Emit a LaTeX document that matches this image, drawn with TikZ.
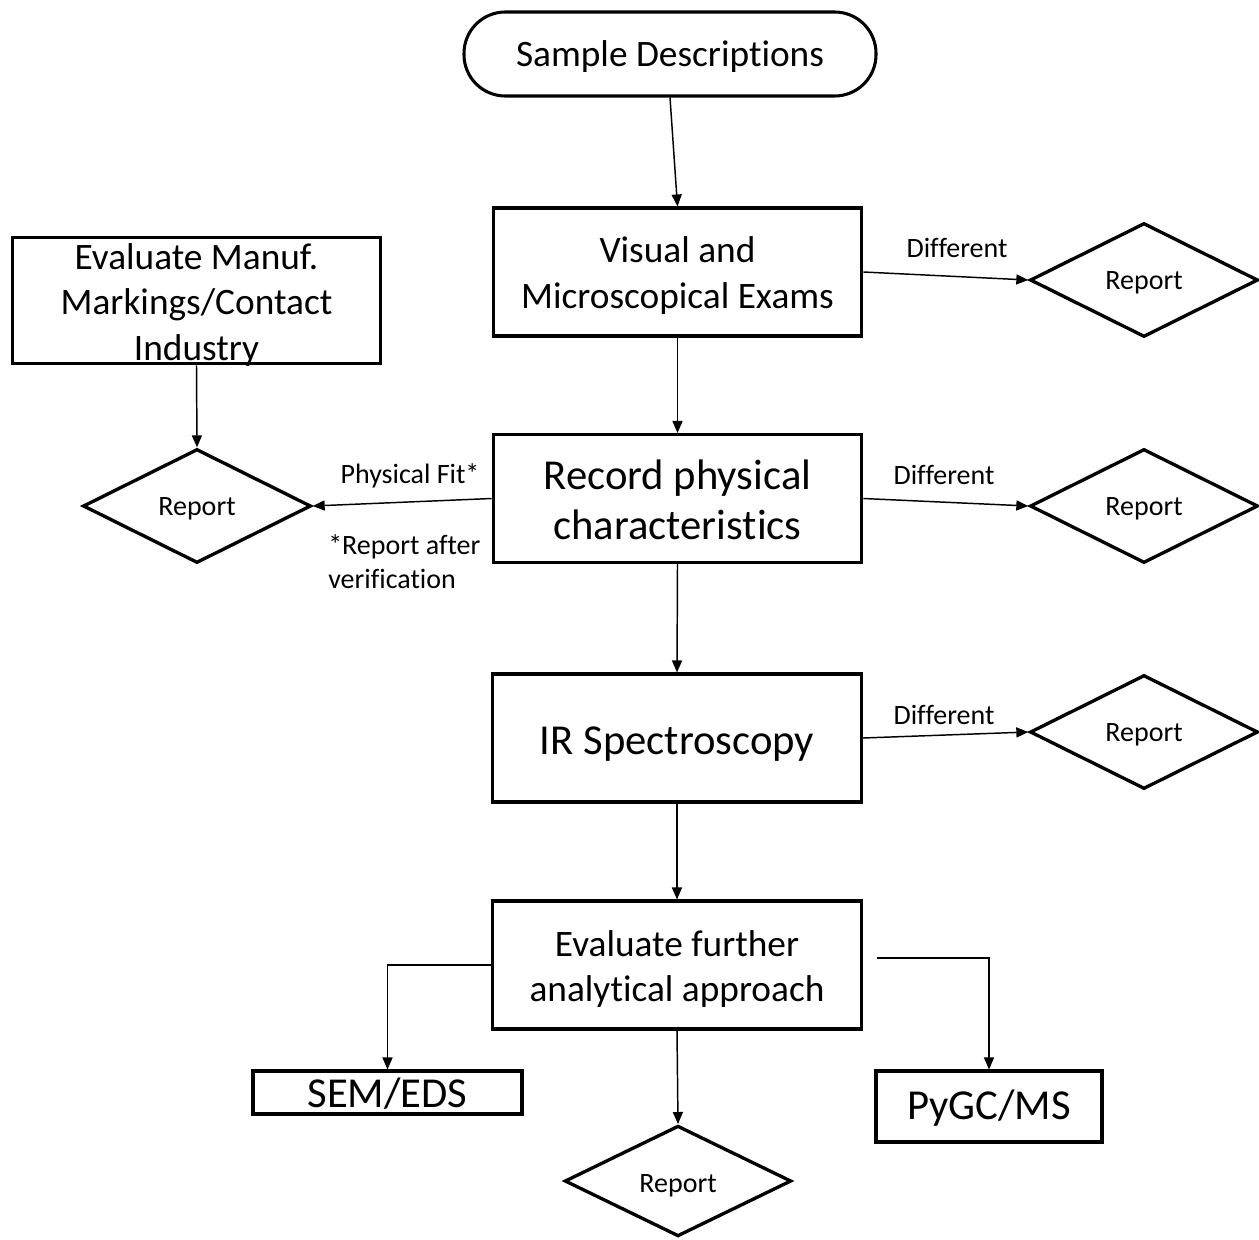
\documentclass[tikz,border=0pt]{standalone}
\usepackage{fontspec}
\setmainfont{Carlito}[Ligatures=NoCommon]
\usetikzlibrary{shapes.geometric,arrows.meta,calc}
\tikzset{
  thick box/.style={draw, line width=2.3pt, inner sep=0pt},
  termbox/.style={thick box, rounded corners=31pt, minimum width=309pt, minimum height=63pt},
  stepbox/.style={thick box, minimum width=276.5pt, minimum height=96pt},
  reportd/.style={draw, line width=2.5pt, diamond, inner sep=0pt, minimum width=171pt, minimum height=85.5pt},
  t28/.style={align=center, inner sep=0pt, font=\fontsize{28}{34}\selectfont},
  t32/.style={align=center, inner sep=0pt, font=\fontsize{32}{37}\selectfont},
  t21/.style={align=center, inner sep=0pt, font=\fontsize{21}{25}\selectfont},
  conn/.style={line width=1.1pt, -{Triangle[length=9pt,width=7.5pt]}},
  lab/.style={font=\fontsize{21}{25.5}\selectfont, inner sep=0pt}
}
\begin{document}
\begin{tikzpicture}[x=0.75pt,y=-0.75pt]
\useasboundingbox (0,0) rectangle (1259,1239);
% shapes
\node[termbox] (term) at (670,54) {};
\node[stepbox] (box1) at (677.5,272) {};
\node[stepbox] (box2) at (677.5,498.5) {};
\node[stepbox] (box3) at (677,738) {};
\node[stepbox] (box4) at (677,965) {};
\node[stepbox, minimum height=95pt] (lbox) at (196.5,300.5) {};
\node[reportd] (d1) at (1144,280) {};
\node[reportd] (d2) at (1144,506) {};
\node[reportd] (d3) at (1144,732) {};
\node[reportd] (dl) at (197,506) {};
\node[reportd, minimum width=170pt, minimum height=83pt] (db) at (678,1181) {};
\node[thick box, minimum width=201.75pt, minimum height=32.25pt] (sem) at (387.5,1092.5) {};
\node[thick box, minimum width=169.5pt, minimum height=53.25pt] (py) at (989,1106.5) {};
\coordinate (pys) at (877,958);
% texts
\node[t28] (termt) at ($(term)+(0,3)$) {Sample Descriptions};
\node[t28] (box1t) at ($(box1)+(0,3.5)$) {Visual and\\Microscopical Exams};
\node[t32] (box2t) at ($(box2)+(0,1.5)$) {Record physical\\characteristics};
\node[t32] (box3t) at ($(box3)+(0,6)$) {IR Spectroscopy};
\node[t28] (box4t) at ($(box4)+(0,4)$) {Evaluate further\\analytical approach};
\node[t28] (lboxt) at ($(lbox)+(0,4.5)$) {Evaluate Manuf.\\Markings/Contact\\Industry};
\node[t21] (d1t) at ($(d1)+(0,3)$) {Report};
\node[t21] (d2t) at ($(d2)+(0,3)$) {Report};
\node[t21] (d3t) at ($(d3)+(0,3)$) {Report};
\node[t21] (dlt) at ($(dl)+(0,3)$) {Report};
\node[t21] (dbt) at ($(db)+(0,5)$) {Report};
\node[t32] (semt) at ($(sem)+(0,1)$) {SEM/EDS};
\node[t32] (pyt) at ($(py)+(0,2)$) {PyGC/MS};
% connectors
\draw[conn] (term.south) -- (box1.north);
\draw[conn] (box1.east) -- (d1.west);
\draw[conn] (box1.south) -- (box2.north);
\draw[conn] (box2.east) -- (d2.west);
\draw[conn] (box2.west) -- (dl.east);
\draw[conn] (lbox.south) -- (dl.north);
\draw[conn] (box2.south) -- (box3.north);
\draw[conn] (box3.east) -- (d3.west);
\draw[conn] (box3.south) -- (box4.north);
\draw[conn] (box4.west) -| (sem.north);
\draw[conn] (pys) -| (py.north);
\draw[conn] (box4.south) -- (db.north);
% connector labels
\node[lab] (l1) at (957,248) {Different};
\node[lab] (l2) at (944,475) {Different};
\node[lab] (l3) at (944,715) {Different};
\node[lab] (l4) at (410,476) {Physical Fit*};
\node[lab, anchor=west, align=left] (l5) at (328,562) {*Report after\\verification};
\end{tikzpicture}
\end{document}
